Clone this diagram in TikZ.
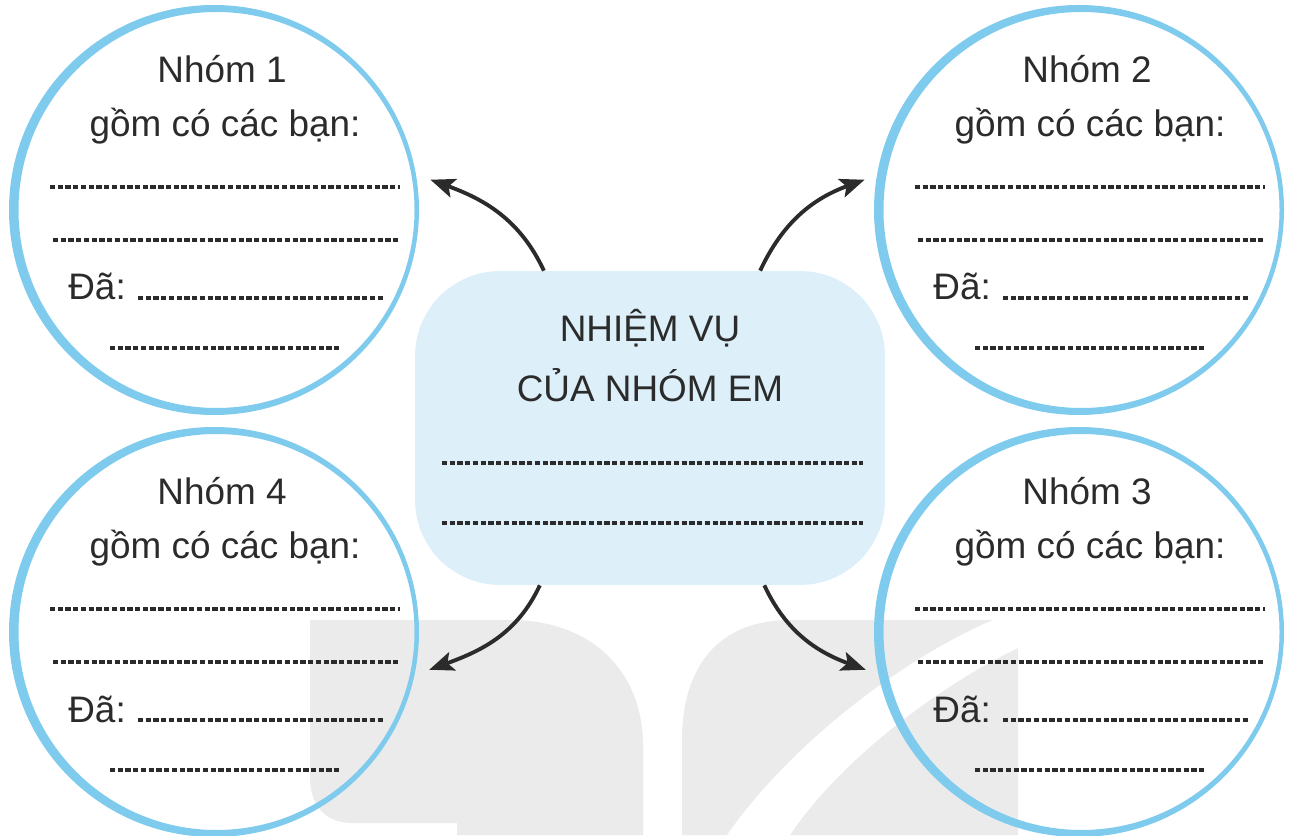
\documentclass[tikz,border=0pt]{standalone}
\usepackage{fontspec}
\setmainfont{Liberation Sans}
\usetikzlibrary{arrows.meta,positioning,calc}
\definecolor{ringblue}{HTML}{7FCBEE}
\definecolor{blobblue}{HTML}{DDF0FA}
\definecolor{ink}{HTML}{2B2B2B}
\definecolor{logogrey}{HTML}{EBEBEB}

\begin{document}
\begin{tikzpicture}[x=0.02cm, y=0.02cm,
  group/.style={circle, minimum size=8cm, inner sep=0pt, outer sep=10pt},
  ring/.style={fill=ringblue, even odd rule},
  task/.style={fill=blobblue, rounded corners=1.7cm, minimum width=9.4cm, minimum height=6.28cm, inner sep=0pt},
  heading/.style={font=\fontsize{21}{25}\selectfont, text=ink, anchor=base, inner sep=0pt},
  blank/.style={draw=ink, line width=1.75pt, dash pattern=on 3pt off 1.4pt},
  link/.style={draw=ink, line width=2.2pt, -{Stealth[length=14pt, width=11pt, inset=3pt]}}
]
\useasboundingbox (0,0) rectangle (1297,835);

% faint logo in the background
\fill[logogrey] (310,58) -- (310,215) -- (510,215) .. controls (595,215) and (643,160) .. (643,90) -- (643,0) -- (457,0) -- (457,12) -- (352,12) .. controls (325,12) and (310,30) .. (310,58) -- cycle;
\fill[logogrey] (682,0) -- (682,95) .. controls (682,170) and (720,215) .. (790,215) -- (1018,215) -- (1018,0) -- cycle;
\fill[white] (993,215) .. controls (900,175) and (790,90) .. (727,0) -- (790,0) .. controls (840,75) and (940,150) .. (1018,187) -- (1018,215) -- cycle;

% centre
\node[task] (task) at (650,407) {};
\node[heading] (title1) at (650,493) {NHIỆM VỤ};
\node[heading] (title2) at (650,433) {CỦA NHÓM EM};
\draw[blank] (442,372) -- (863,372);
\draw[blank] (442,312) -- (863,312);

% the four groups
\foreach \n/\dx/\dy in {1/0/0, 2/865/0, 3/865/-422, 4/0/-422} {
  \begin{scope}[shift={(\dx,\dy)}]
    \fill[ring] (214,625) circle[radius=205] (216.5,625) circle[radius=198];
    \node[group] (g\n) at (215,625) {};
    \node[heading] (name\n) at (222,752) {Nhóm \n};
    \node[heading] (who\n) at (225,698) {gồm có các bạn:};
    \draw[blank] (50,648) -- (400,648);
    \draw[blank] (53,595) -- (398,595);
    \node[heading, anchor=base west] (done\n) at (68,535) {Đã:};
    \draw[blank] (138,537) -- (385,537);
    \draw[blank] (110,487) -- (340,487);
  \end{scope}
}

\draw[link] (task.124) to[out=115, in=-20] (g1.8);
\draw[link] (task.55) to[out=65, in=200] (g2.172);
\draw[link] (task.235) to[out=-115, in=20] (g4.-10);
\draw[link] (task.-54) to[out=-65, in=160] (g3.190);
\end{tikzpicture}
\end{document}
